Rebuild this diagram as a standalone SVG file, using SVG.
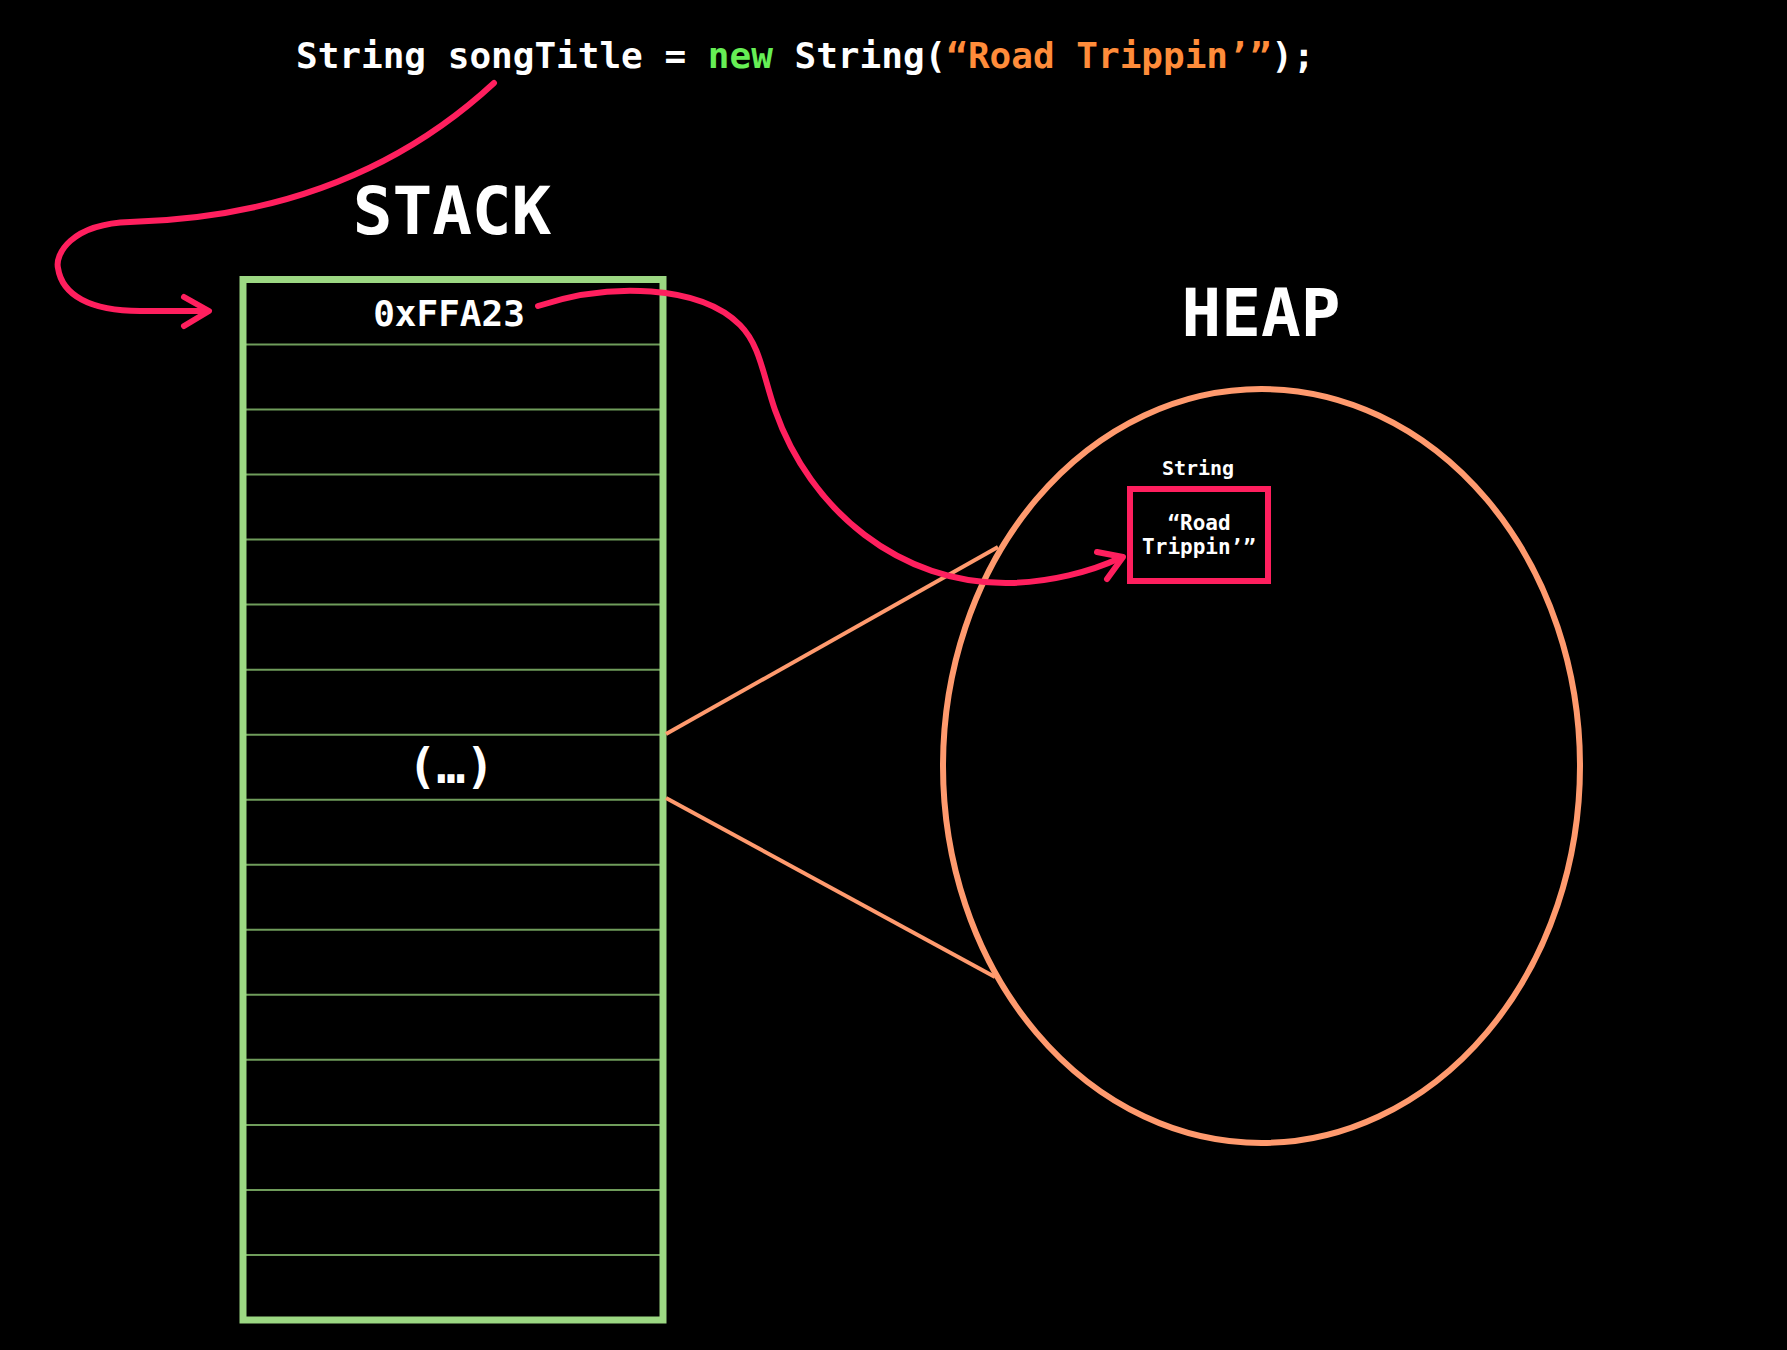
<svg xmlns="http://www.w3.org/2000/svg" width="1787" height="1350" viewBox="0 0 1787 1350">
<style>
.mono{font-family:"DejaVu Sans Mono","Liberation Mono",monospace;font-weight:bold;fill:#ffffff}
.row{stroke:#6f9c5b;stroke-width:2}
.pink{fill:none;stroke:#ff1f5e;stroke-width:6;stroke-linecap:round;stroke-linejoin:round}
.salmon{fill:none;stroke:#ff9a6e}
</style>
<rect x="0" y="0" width="1787" height="1350" fill="#000000"/>
<g id="code">
<text class="mono" x="296" y="68" font-size="36">String songTitle = <tspan fill="#66ee55">new</tspan> String(<tspan fill="#ff8c3a">“Road Trippin’”</tspan>);</text>
</g>
<g id="stack">
<text class="mono" x="452" y="234" font-size="66" text-anchor="middle">STACK</text>
<g id="stack-rows">
<line class="row" x1="246" y1="344.5" x2="660" y2="344.5"/>
<line class="row" x1="246" y1="409.6" x2="660" y2="409.6"/>
<line class="row" x1="246" y1="474.6" x2="660" y2="474.6"/>
<line class="row" x1="246" y1="539.6" x2="660" y2="539.6"/>
<line class="row" x1="246" y1="604.6" x2="660" y2="604.6"/>
<line class="row" x1="246" y1="669.7" x2="660" y2="669.7"/>
<line class="row" x1="246" y1="734.7" x2="660" y2="734.7"/>
<line class="row" x1="246" y1="799.7" x2="660" y2="799.7"/>
<line class="row" x1="246" y1="864.7" x2="660" y2="864.7"/>
<line class="row" x1="246" y1="929.8" x2="660" y2="929.8"/>
<line class="row" x1="246" y1="994.8" x2="660" y2="994.8"/>
<line class="row" x1="246" y1="1059.8" x2="660" y2="1059.8"/>
<line class="row" x1="246" y1="1124.9" x2="660" y2="1124.9"/>
<line class="row" x1="246" y1="1189.9" x2="660" y2="1189.9"/>
<line class="row" x1="246" y1="1254.9" x2="660" y2="1254.9"/>
</g>
<rect x="243" y="279.5" width="420" height="1040.5" fill="none" stroke="#9cd883" stroke-width="7"/>
<text class="mono" x="449" y="326" font-size="36" text-anchor="middle">0xFFA23</text>
<text class="mono" x="451" y="783" font-size="48" text-anchor="middle">(…)</text>
</g>
<g id="heap">
<text class="mono" x="1261" y="336" font-size="66" text-anchor="middle">HEAP</text>
<ellipse class="salmon" cx="1261.5" cy="766" rx="318.5" ry="377" stroke-width="6"/>
</g>
<g id="string-object">
<text class="mono" x="1198" y="475" font-size="20" text-anchor="middle">String</text>
<rect x="1130" y="489" width="138" height="92" fill="none" stroke="#ff1f5e" stroke-width="6"/>
<text class="mono" x="1199" y="530" font-size="21" text-anchor="middle">“Road</text>
<text class="mono" x="1199" y="554" font-size="21" text-anchor="middle">Trippin’”</text>
</g>
<g id="connectors">
<line class="salmon" x1="666" y1="734" x2="998" y2="547" stroke-width="4"/>
<line class="salmon" x1="666" y1="798" x2="995" y2="977" stroke-width="4"/>
<path class="pink" d="M 494 83 C 400 170, 280 218, 130 222 C 70 224, 55 255, 58 268 C 62 295, 90 311, 140 311 L 205 311"/>
<polyline class="pink" points="184,297 209,311 184,326"/>
<path class="pink" d="M 538 306 C 610 282, 700 285, 740 325 C 760 345, 763 375, 775 410 C 810 510, 900 585, 1010 583 C 1050 582, 1090 572, 1120 558"/>
<polyline class="pink" points="1097,552 1123,557 1107,579"/>
</g>
</svg>
